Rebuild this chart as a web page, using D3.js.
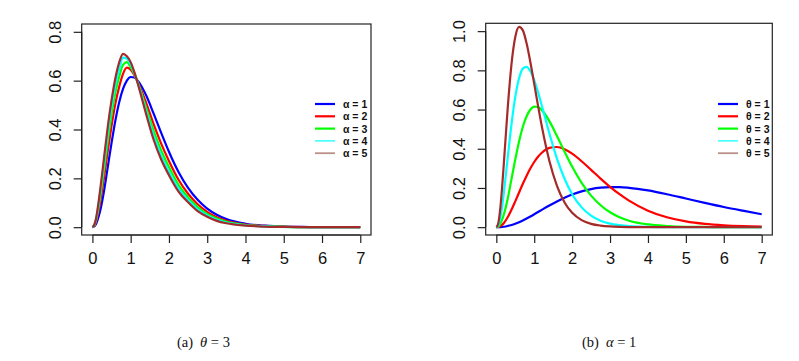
<!DOCTYPE html>
<html>
<head>
<meta charset="utf-8">
<script src="https://cdn.jsdelivr.net/npm/d3@7"></script>
<style>
  body { margin: 0; background: #fff; }
</style>
</head>
<body>
<svg id="chart" width="799" height="361"></svg>
<script>
// ---------------------------------------------------------------------------
// data
// ---------------------------------------------------------------------------
var xGrid = [0, 0.05, 0.1, 0.15, 0.2, 0.3, 0.4, 0.5, 0.6, 0.7, 0.8, 0.9, 1.0, 1.1, 1.2,
  1.4, 1.6, 1.8, 2.0, 2.25, 2.5, 2.75, 3.0, 3.25, 3.5, 4.0, 4.5, 5.0, 5.5, 6.0, 6.5, 7.0];

// panel (a): theta = 3, alpha = 1..5
var alpha1 = [0, 0.003, 0.015, 0.037, 0.065, 0.145, 0.245, 0.345, 0.437, 0.512, 0.566, 0.600, 0.615, 0.613, 0.597,
  0.541, 0.465, 0.385, 0.309, 0.226, 0.161, 0.112, 0.076, 0.051, 0.033, 0.014, 0.006, 0.002, 0.001, 0, 0, 0];
var alpha2 = [0, 0.006, 0.025, 0.058, 0.099, 0.199, 0.311, 0.415, 0.506, 0.575, 0.628, 0.653, 0.645, 0.621, 0.590,
  0.511, 0.422, 0.341, 0.271, 0.194, 0.137, 0.094, 0.063, 0.041, 0.026, 0.011, 0.005, 0.002, 0.0006, 0, 0, 0];
var alpha3 = [0, 0.0076, 0.0315, 0.072, 0.121, 0.234, 0.354, 0.461, 0.551, 0.616, 0.665, 0.676, 0.655, 0.626, 0.586,
  0.491, 0.394, 0.313, 0.246, 0.173, 0.122, 0.082, 0.054, 0.035, 0.022, 0.009, 0.004, 0.0014, 0.0003, 0, 0, 0];
var alpha4 = [0, 0.009, 0.036, 0.082, 0.137, 0.260, 0.385, 0.494, 0.584, 0.646, 0.694, 0.690, 0.667, 0.630, 0.583,
  0.476, 0.374, 0.292, 0.227, 0.158, 0.111, 0.073, 0.048, 0.030, 0.019, 0.008, 0.003, 0.001, 0, 0, 0, 0];
var alpha5 = [0, 0.010, 0.040, 0.090, 0.150, 0.280, 0.410, 0.520, 0.610, 0.675, 0.710, 0.700, 0.676, 0.633, 0.580,
  0.465, 0.358, 0.276, 0.213, 0.146, 0.102, 0.066, 0.043, 0.026, 0.016, 0.0065, 0.0025, 0.001, 0, 0, 0, 0];

// panel (b): alpha = 1, theta = 1..5
var theta1 = [0, 0.0001, 0.0004, 0.0011, 0.0022, 0.0057, 0.0108, 0.0174, 0.0253, 0.0344, 0.0443, 0.0548, 0.0658, 0.0770, 0.0883,
  0.1105, 0.1314, 0.1501, 0.1662, 0.1823, 0.1940, 0.2013, 0.2044, 0.2042, 0.2008, 0.1874, 0.1681, 0.1461, 0.1239, 0.1029, 0.0840, 0.0660];
var theta2 = [0, 0.0009, 0.0045, 0.0114, 0.0216, 0.0507, 0.0885, 0.1316, 0.1767, 0.2211, 0.2627, 0.3001, 0.3324, 0.3590, 0.3797,
  0.4043, 0.4090, 0.3976, 0.3748, 0.3362, 0.2923, 0.2479, 0.2058, 0.1680, 0.1351, 0.0842, 0.0505, 0.0293, 0.0166, 0.0092, 0.0050, 0.0027];
var theta3 = [0, 0.003, 0.015, 0.037, 0.065, 0.145, 0.245, 0.345, 0.437, 0.512, 0.566, 0.600, 0.615, 0.613, 0.597,
  0.541, 0.465, 0.385, 0.309, 0.226, 0.161, 0.112, 0.076, 0.051, 0.033, 0.014, 0.006, 0.002, 0.001, 0, 0, 0];
var theta4 = [0, 0.009, 0.043, 0.101, 0.177, 0.353, 0.525, 0.665, 0.760, 0.809, 0.818, 0.795, 0.750, 0.689, 0.620,
  0.478, 0.350, 0.247, 0.168, 0.101, 0.059, 0.033, 0.018, 0.010, 0.005, 0.0015, 0.0003, 0, 0, 0, 0, 0];
var theta5 = [0, 0.019, 0.087, 0.196, 0.329, 0.606, 0.831, 0.970, 1.022, 1.004, 0.937, 0.840, 0.731, 0.620, 0.515,
  0.338, 0.211, 0.126, 0.073, 0.036, 0.017, 0.008, 0.0036, 0.0015, 0.0006, 0, 0, 0, 0, 0, 0, 0];

var xTicks = [0, 1, 2, 3, 4, 5, 6, 7];
var yTicksA = [0, 0.2, 0.4, 0.6, 0.8];
var yTicksB = [0, 0.2, 0.4, 0.6, 0.8, 1.0];
var seriesColors = ["#0000ff", "#ff0000", "#00ff00", "#00ffff", "#a52a2a"];
var legendA = ["α = 1", "α = 2", "α = 3", "α = 4", "α = 5"];
var legendB = ["θ = 1", "θ = 2", "θ = 3", "θ = 4", "θ = 5"];

// ---------------------------------------------------------------------------
// drawing
// ---------------------------------------------------------------------------
var svg = d3.select("#chart");
var SANS = "'Liberation Sans', Arial, sans-serif";
var SERIF = "'Liberation Serif', 'Times New Roman', serif";

function drawPanel(p) {
  var xScale = d3.scaleLinear().domain([-0.28, 7.28]).range([p.left, p.right]);
  var yScale = d3.scaleLinear().domain(p.yDomain).range([p.bottom, p.top]);

  var g = svg.append("g");

  var line = d3.line()
      .x(function(d) { return xScale(d[0]); })
      .y(function(d) { return yScale(d[1]); })
      .curve(d3.curveMonotoneX);

  p.series.forEach(function(vals, i) {
    g.append("path")
        .datum(xGrid.map(function(x, j) { return [x, vals[j]]; }))
        .attr("fill", "none")
        .attr("stroke", seriesColors[i])
        .attr("stroke-width", 2.2)
        .attr("stroke-linejoin", "round")
        .attr("d", line);
  });

  // x axis
  var xAxis = g.append("g")
      .attr("transform", "translate(0," + p.bottom + ")")
      .call(d3.axisBottom(xScale).tickValues(xTicks).tickSize(8).tickPadding(9).tickFormat(d3.format("d")));
  xAxis.select(".domain").attr("d", "M" + xScale(0) + ",0H" + xScale(7));

  // y axis
  var yAxis = g.append("g")
      .attr("transform", "translate(" + p.left + ",0)")
      .call(d3.axisLeft(yScale).tickValues(p.yTicks).tickSize(8).tickFormat(d3.format(".1f")));
  yAxis.select(".domain").attr("d", "M0," + yScale(p.yTicks[0]) + "V" + yScale(p.yTicks[p.yTicks.length - 1]));
  yAxis.selectAll(".tick text")
      .attr("x", 0).attr("dy", null)
      .attr("text-anchor", "middle")
      .attr("dominant-baseline", "central")
      .attr("transform", "translate(-26.5,0) rotate(-90)");

  g.selectAll(".tick text").style("font-size", "16.5px").style("font-family", SANS).attr("fill", "#111");
  g.selectAll(".tick line, .domain").attr("stroke", "#222").attr("stroke-width", 1.2);

  // box
  g.append("rect")
      .attr("x", p.left).attr("y", p.top)
      .attr("width", p.right - p.left).attr("height", p.bottom - p.top)
      .attr("fill", "none").attr("stroke", "#222").attr("stroke-width", 1.2);

  // legend
  var leg = g.append("g").attr("transform", "translate(" + p.legX + "," + p.legY + ")");
  p.legend.forEach(function(lab, i) {
    var y = i * 12.3;
    leg.append("line")
        .attr("x1", 0).attr("x2", 20).attr("y1", y).attr("y2", y)
        .attr("stroke", i === 4 ? "#bb9188" : seriesColors[i])
        .attr("stroke-width", i === 3 ? 1.2 : (i === 4 ? 1.8 : 2.2));
    leg.append("text")
        .attr("x", 28).attr("y", y)
        .attr("dominant-baseline", "central")
        .style("font-family", SANS)
        .style("font-size", "10.5px").style("font-weight", "bold")
        .attr("fill", "#111")
        .text(lab);
  });

  // caption
  var cap = svg.append("text")
      .attr("x", p.capX).attr("y", 347)
      .style("font-family", SERIF)
      .style("font-size", "14.5px").attr("fill", "#111");
  cap.append("tspan").text(p.capTag);
  cap.append("tspan").attr("dx", 7).style("font-style", "italic").text(p.capSym);
  cap.append("tspan").text(" = " + p.capVal);
}

drawPanel({
  left: 81.7, right: 371, top: 24, bottom: 235,
  yDomain: [-0.032, 0.832], yTicks: yTicksA,
  series: [alpha1, alpha2, alpha3, alpha4, alpha5],
  legend: legendA, legX: 315, legY: 104,
  capX: 177, capTag: "(a)", capSym: "θ", capVal: "3"
});

drawPanel({
  left: 485.7, right: 772.3, top: 23.3, bottom: 235,
  yDomain: [-0.04, 1.04], yTicks: yTicksB,
  series: [theta1, theta2, theta3, theta4, theta5],
  legend: legendB, legX: 718, legY: 104,
  capX: 582, capTag: "(b)", capSym: "α", capVal: "1"
});
</script>
</body>
</html>
